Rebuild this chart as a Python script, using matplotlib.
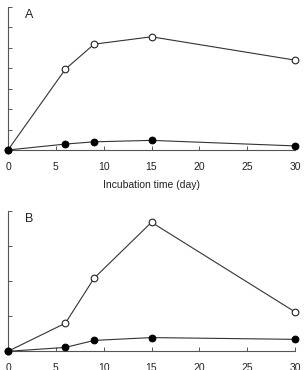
import matplotlib
matplotlib.use("Agg")
import matplotlib.pyplot as plt

plt.rcParams['font.family'] = ['Liberation Sans', 'DejaVu Sans']

days = [0, 6, 9, 15, 30]
a_open = [0.0, 3.95, 5.17, 5.53, 4.39]
a_filled = [0.0, 0.29, 0.40, 0.47, 0.20]
b_open = [0.0, 0.80, 2.08, 3.67, 1.12]
b_filled = [0.0, 0.11, 0.31, 0.39, 0.34]
xticks = [0, 5, 10, 15, 20, 25, 30]

fig = plt.figure(figsize=(3.04, 3.70), dpi=100)
W, H = 304, 370

def make_ax(top_px, bot_px, ymax, label):
    left, right = 8, 295
    ax = fig.add_axes([left / W, 1 - bot_px / H, (right - left) / W, (bot_px - top_px) / H])
    ax.set_xlim(0, 30)
    ax.set_ylim(0, ymax)
    ax.spines['top'].set_visible(False)
    ax.spines['right'].set_visible(False)
    for s in ('left', 'bottom'):
        ax.spines[s].set_color('#555555')
        ax.spines[s].set_linewidth(0.8)
    ax.set_xticks(xticks)
    ax.set_yticks(range(0, ymax + 1))
    ax.set_yticklabels([])
    ax.tick_params(direction='in', length=3, width=0.7, color='#555555',
                   labelsize=7.5, labelcolor='#222222', pad=8.5)
    ax.text(17 / 287, 0.985, label, transform=ax.transAxes, fontsize=9,
            va='top', ha='left', color='#222222')
    return ax

axA = make_ax(6.7, 150, 7, 'A')
axA.plot(days, a_open, '-o', color='#333333', lw=0.8, mfc='white', mec='#222222',
         ms=4.8, mew=0.8, clip_on=False, zorder=3)
axA.plot(days, a_filled, '-o', color='#333333', lw=0.8, mfc='black', mec='black',
         ms=4.8, mew=0.8, clip_on=False, zorder=4)
axA.set_xlabel('Incubation time (day)', fontsize=7.5, color='#222222', labelpad=6)

axB = make_ax(210.7, 351.3, 4, 'B')
axB.plot(days, b_open, '-o', color='#333333', lw=0.8, mfc='white', mec='#222222',
         ms=4.8, mew=0.8, clip_on=False, zorder=3)
axB.plot(days, b_filled, '-o', color='#333333', lw=0.8, mfc='black', mec='black',
         ms=4.8, mew=0.8, clip_on=False, zorder=4)

fig.savefig('out.png', dpi=100)
